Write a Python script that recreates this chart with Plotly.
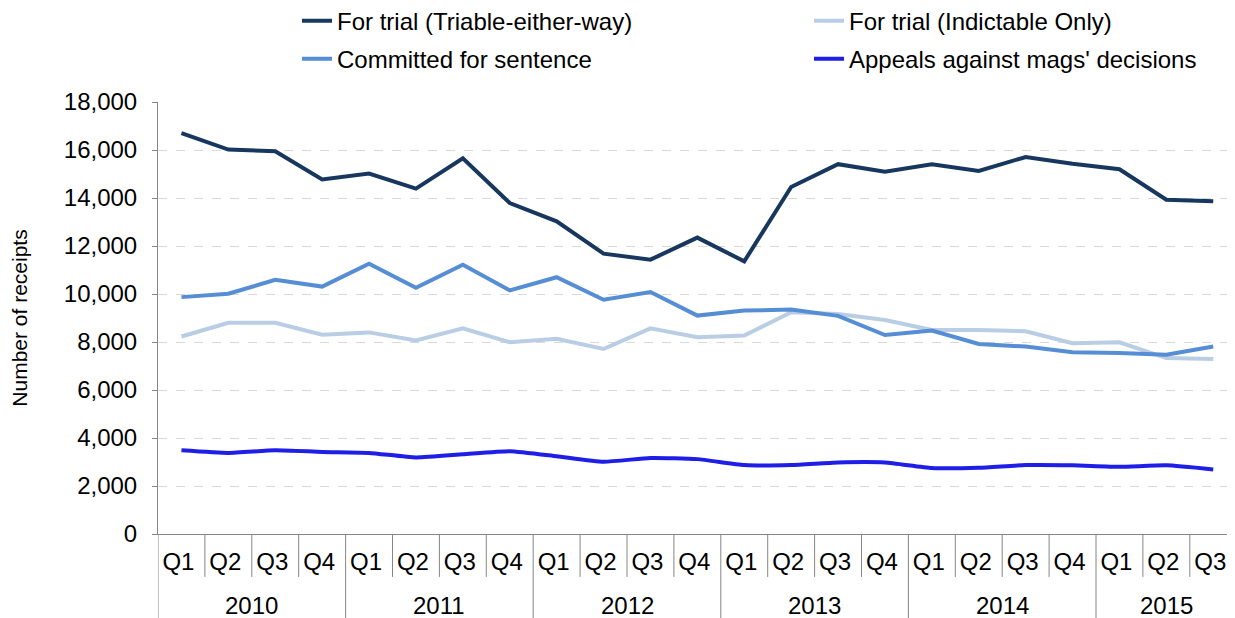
import plotly.graph_objects as go

# ---- data ----
quarters = ["Q1", "Q2", "Q3", "Q4"] * 5 + ["Q1", "Q2", "Q3"]
years = ["2010"] * 4 + ["2011"] * 4 + ["2012"] * 4 + ["2013"] * 4 + ["2014"] * 4 + ["2015"] * 3

triable = [16700, 16020, 15950, 14770, 15020, 14390, 15650, 13790, 13030, 11680, 11430, 12350,
           11360, 14460, 15410, 15090, 15410, 15130, 15710, 15430, 15200, 13930, 13860]
indictable = [8230, 8800, 8800, 8300, 8400, 8060, 8570, 7990, 8130, 7710, 8570, 8200,
              8270, 9240, 9170, 8920, 8500, 8500, 8450, 7950, 7990, 7330, 7290]
committed = [9870, 10010, 10590, 10310, 11260, 10260, 11220, 10150, 10700, 9760, 10080, 9100,
             9310, 9350, 9090, 8290, 8480, 7920, 7810, 7570, 7540, 7470, 7810]
appeals = [3490, 3380, 3490, 3420, 3380, 3190, 3320, 3450, 3240, 3010, 3170, 3120,
           2870, 2870, 2980, 2980, 2750, 2760, 2870, 2860, 2800, 2860, 2690]

series_names = ["For trial (Triable-either-way)", "For trial (Indictable Only)",
                "Committed for sentence", "Appeals against mags' decisions"]
y_ticks = [0, 2000, 4000, 6000, 8000, 10000, 12000, 14000, 16000, 18000]

# ---- style ----
FONT = "Liberation Sans, Arial, sans-serif"
colors = ["#17375E", "#B9CDE5", "#558ED5", "#1E1EE6"]
OFF = 8                      # page body margin
W, H = 1235 - OFF, 618 - OFF
ML, MT, MR = 150, 94, 0
MB = H - (534.5 - OFF)
axis_grey = "#868686"
plot_w = W - ML - MR
plot_h = H - MT - MB
cat_w = 46.9

idx = list(range(len(quarters)))
fig = go.Figure()
all_series = [triable, indictable, committed, appeals]
legend_ids = ["legend", "legend2", "legend3", "legend4"]
for i, (name, vals) in enumerate(zip(series_names, all_series)):
    shape = "spline" if i == 3 else "linear"
    fig.add_trace(go.Scatter(
        x=idx, y=vals, name=name, mode="lines",
        line=dict(color=colors[i], width=4, shape=shape, smoothing=0.5),
        legend=legend_ids[i], showlegend=True,
    ))

# legends: one per item so the 2x2 layout matches (page pixel positions of legend box left / row centre)
leg_pos = [(297, 21), (809, 21), (297, 59), (809, 59)]
for lid, (px, py) in zip(legend_ids, leg_pos):
    fig.update_layout({lid: dict(
        xref="paper", yref="paper",
        x=(px - OFF - ML) / plot_w, y=(H - MB - (py - OFF)) / plot_h,
        xanchor="left", yanchor="middle",
        orientation="v", bgcolor="rgba(0,0,0,0)",
        font=dict(family=FONT, size=24, color="#000000"),
    )})

# category boundary dividers
q_div_len = 43 / plot_h
year_div_len = 90 / plot_h
for k in range(len(quarters)):
    b = k - 0.5
    is_year = (k == 0) or (years[k] != years[k - 1])
    fig.add_shape(type="line", xref="x", yref="paper",
                  x0=b, x1=b, y0=0, y1=-(year_div_len if is_year else q_div_len),
                  line=dict(color=axis_grey, width=1))

# year labels
seen = []
for y in years:
    if y not in seen:
        seen.append(y)
for y in seen:
    ks = [k for k in idx if years[k] == y]
    fig.add_annotation(x=(ks[0] + ks[-1]) / 2, xref="x", y=-(606 - 534.5) / plot_h, yref="paper",
                       text=y, showarrow=False, yanchor="middle",
                       font=dict(family=FONT, size=24, color="#000000"))

fig.update_layout(
    width=W, height=H,
    margin=dict(l=ML, r=MR, t=MT, b=MB, autoexpand=False),
    paper_bgcolor="white", plot_bgcolor="white",
    font=dict(family=FONT, color="#000000"),
    xaxis=dict(
        range=[-0.5, -0.5 + plot_w / cat_w],
        tickmode="array", tickvals=idx, ticktext=quarters,
        ticks="", showgrid=False, zeroline=False,
        showline=True, linecolor=axis_grey, linewidth=1,
        tickfont=dict(family=FONT, size=24, color="#000000"),
        ticklabelstandoff=6, ticklabelshift=-3, ticklabeloverflow="allow",
    ),
    yaxis=dict(
        range=[0, 18000], tickmode="array", tickvals=y_ticks, tickformat=",",
        ticks="outside", ticklen=5, tickcolor=axis_grey, tickwidth=1,
        showline=True, linecolor=axis_grey, linewidth=1,
        showgrid=True, gridcolor="#D9D9D9", griddash="dash", gridwidth=1,
        zeroline=False,
        tickfont=dict(family=FONT, size=24, color="#000000"),
        ticklabelstandoff=10,
        title=dict(text="Number of receipts", font=dict(family=FONT, size=21, color="#000000"),
                   standoff=35),
    ),
)

fig.write_html("out.html")
